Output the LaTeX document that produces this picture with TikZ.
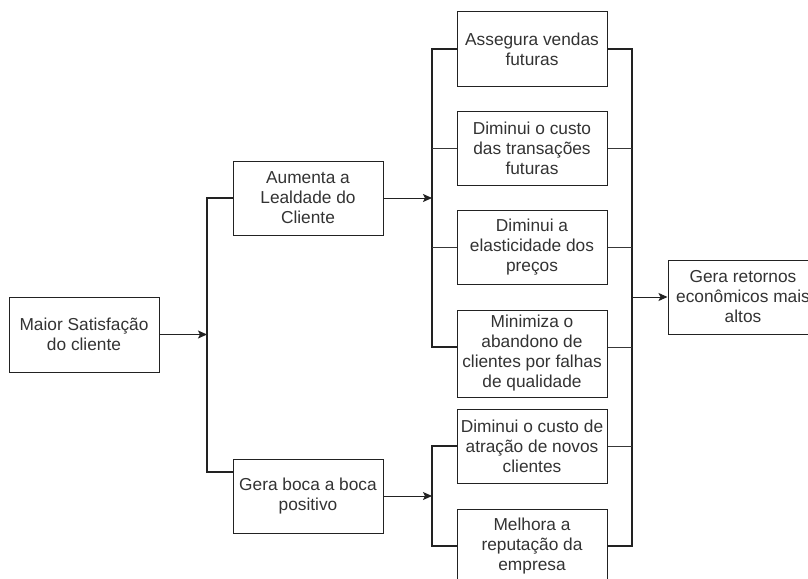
\documentclass[tikz,border=0pt]{standalone}
\usepackage{fontspec}
\setmainfont{Liberation Sans}
\usetikzlibrary{arrows.meta}
\definecolor{txt}{HTML}{333333}
\definecolor{edge}{HTML}{222222}
\tikzset{
  box/.style={draw=edge, line width=1pt, fill=white, minimum width=150pt, minimum height=74pt,
    inner sep=0pt, align=center, text=txt, font=\fontsize{17.3}{20}\selectfont},
  thickline/.style={draw=edge, line width=2.2pt},
  thinline/.style={draw=edge!90, line width=1pt},
  arr/.style={draw=edge, line width=1pt, -{Stealth[length=9pt,width=8pt,inset=2pt]}}
}
\begin{document}
\begin{tikzpicture}[x=1pt,y=-1pt]
\useasboundingbox (0,0) rectangle (808,578);
\begin{scope}
\clip (0,0) rectangle (808,578);
\node[box, minimum height=75pt] (sat) at (84,334.5) {Maior Satisfação\\do cliente};
\node[box] (leal) at (308,198) {Aumenta a\\Lealdade do\\Cliente};
\node[box] (boca) at (308,496) {Gera boca a boca\\positivo};
\node[box] (a1) at (532,49) {Assegura vendas\\futuras};
\node[box] (a2) at (532,148) {Diminui o custo\\das transações\\futuras};
\node[box] (a3) at (532,247.5) {Diminui a\\elasticidade dos\\preços};
\node[box, minimum height=87pt] (a4) at (532,353.5) {Minimiza o\\abandono de\\clientes por falhas\\de qualidade};
\node[box] (b1) at (532,446) {Diminui o custo de\\atração de novos\\clientes};
\node[box] (b2) at (532,546) {Melhora a\\reputação da\\empresa};
\node[box] (ret) at (743,297) {Gera retornos\\econômicos mais\\altos};

\coordinate (j1) at (207,334.5);
\coordinate (j2) at (432,198);
\coordinate (j3) at (432,496);
\coordinate (j4) at (632,297);
\coordinate (a4l) at ([yshift=6.5pt]a4.west);
\coordinate (a4r) at ([yshift=6.5pt]a4.east);
\coordinate (bocal) at ([yshift=24pt]boca.west);

% first fork
\draw[arr] (sat.east) -- (j1);
\draw[thickline] (leal.west) -- (leal.west -| j1) -- (bocal -| j1) -- (bocal);

% loyalty fork
\draw[arr] (leal.east) -- (j2);
\draw[thickline] (a1.west) -- (a1.west -| j2) -- (a4l -| j2) -- (a4l);
\draw[thinline] (a2.west) -- (a2.west -| j2);
\draw[thinline] (a3.west) -- (a3.west -| j2);

% word of mouth fork
\draw[arr] (boca.east) -- (j3);
\draw[thickline] (b1.west) -- (b1.west -| j3) -- (b2.west -| j3) -- (b2.west);

% collecting bracket
\draw[thickline] (a1.east) -- (a1.east -| j4) -- (b2.east -| j4) -- (b2.east);
\draw[thinline] (a2.east) -- (a2.east -| j4);
\draw[thinline] (a3.east) -- (a3.east -| j4);
\draw[thinline] (a4r) -- (a4r -| j4);
\draw[thinline] (b1.east) -- (b1.east -| j4);
\draw[arr] (j4) -- (ret.west);
\end{scope}
\end{tikzpicture}
\end{document}
